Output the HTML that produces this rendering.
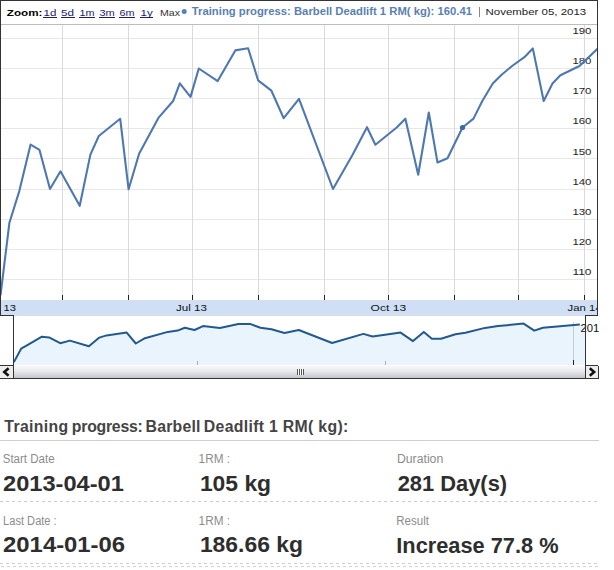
<!DOCTYPE html>
<html><head><meta charset="utf-8"><style>
html,body{margin:0;padding:0;background:#fff;width:614px;height:570px;overflow:hidden}
svg{display:block}
text{font-family:"Liberation Sans",sans-serif}
</style></head><body>
<svg width="614" height="570" viewBox="0 0 614 570">
<defs>
<linearGradient id="sb" x1="0" y1="0" x2="0" y2="1">
<stop offset="0" stop-color="#f8f8fa"/><stop offset="0.4" stop-color="#ebebef"/><stop offset="1" stop-color="#c4c4cf"/>
</linearGradient>
<clipPath id="plot"><rect x="1" y="25" width="596" height="275"/></clipPath>
<clipPath id="c600"><rect x="0" y="0" width="599" height="570"/></clipPath>
<clipPath id="band"><rect x="1" y="300" width="596" height="15"/></clipPath>
</defs>
<rect width="614" height="570" fill="#fff"/>
<!-- gridlines -->
<g stroke="#e8e8e8" stroke-width="1" shape-rendering="crispEdges">
<line x1="1" x2="597" y1="38.5" y2="38.5"/><line x1="1" x2="597" y1="68.5" y2="68.5"/><line x1="1" x2="597" y1="98.5" y2="98.5"/>
<line x1="1" x2="597" y1="128.5" y2="128.5"/><line x1="1" x2="597" y1="158.5" y2="158.5"/><line x1="1" x2="597" y1="189.5" y2="189.5"/>
<line x1="1" x2="597" y1="219.5" y2="219.5"/><line x1="1" x2="597" y1="249.5" y2="249.5"/><line x1="1" x2="597" y1="279.5" y2="279.5"/>
</g>
<g stroke="#dadada" stroke-width="1" shape-rendering="crispEdges">
<line y1="25" y2="300" x1="62.5" x2="62.5"/><line y1="25" y2="300" x1="128.5" x2="128.5"/><line y1="25" y2="300" x1="192.5" x2="192.5"/>
<line y1="25" y2="300" x1="258.5" x2="258.5"/><line y1="25" y2="300" x1="324.5" x2="324.5"/><line y1="25" y2="300" x1="388.5" x2="388.5"/>
<line y1="25" y2="300" x1="454.5" x2="454.5"/><line y1="25" y2="300" x1="518.5" x2="518.5"/><line y1="25" y2="300" x1="584.5" x2="584.5"/>
</g>
<g stroke="#222" stroke-width="1" shape-rendering="crispEdges">
<line y1="295" y2="300" x1="62.5" x2="62.5"/><line y1="295" y2="300" x1="128.5" x2="128.5"/><line y1="295" y2="300" x1="192.5" x2="192.5"/>
<line y1="295" y2="300" x1="258.5" x2="258.5"/><line y1="295" y2="300" x1="324.5" x2="324.5"/><line y1="295" y2="300" x1="388.5" x2="388.5"/>
<line y1="295" y2="300" x1="454.5" x2="454.5"/><line y1="295" y2="300" x1="518.5" x2="518.5"/><line y1="295" y2="300" x1="584.5" x2="584.5"/>
</g>
<!-- y labels -->
<g font-size="9.6" fill="#1e1e1e">
<text x="572.4" y="34.3" textLength="19" lengthAdjust="spacingAndGlyphs">190</text><text x="572.4" y="64.3" textLength="19" lengthAdjust="spacingAndGlyphs">180</text><text x="572.4" y="94.3" textLength="19" lengthAdjust="spacingAndGlyphs">170</text><text x="572.4" y="124.3" textLength="19" lengthAdjust="spacingAndGlyphs">160</text><text x="572.4" y="154.5" textLength="19" lengthAdjust="spacingAndGlyphs">150</text><text x="572.4" y="185" textLength="19" lengthAdjust="spacingAndGlyphs">140</text><text x="572.4" y="215" textLength="19" lengthAdjust="spacingAndGlyphs">130</text><text x="572.4" y="245" textLength="19" lengthAdjust="spacingAndGlyphs">120</text><text x="572.4" y="275" textLength="19" lengthAdjust="spacingAndGlyphs">110</text>
</g>
<!-- main line -->
<g clip-path="url(#plot)">
<polyline points="0.6,294.5 9.4,222.8 19.3,191.1 30.6,144.6 39.5,149.9 50.0,189.0 60.5,171.3 79.7,205.8 90.4,154.6 98.8,136.0 120.2,118.8 128.6,189.3 139.1,153.7 158.4,117.9 173.3,100.7 179.8,83.3 190.5,96.9 198.8,68.5 217.7,81.1 235.3,50.4 248.1,48.3 258.1,80.3 271.4,90.7 283.7,118.2 299.0,98.9 333.0,189.0 352.6,154.7 367.0,127.2 375.4,144.7 396.7,127.5 405.4,118.7 418.2,174.8 428.8,112.5 437.5,162.5 447.5,158.2 462.5,127.5 473.5,118.6 482.3,101.0 492.8,83.5 501.6,74.7 512.1,66.0 524.4,57.2 532.8,48.4 543.7,101.0 552.5,83.5 560.4,75.3 579.5,66.0 600.0,46.3" fill="none" stroke="#4e78b0" stroke-width="2.1" stroke-linejoin="round" stroke-linecap="round"/>
</g>
<circle cx="462.5" cy="127.5" r="2.6" fill="#3b68ad"/>
<!-- header -->
<line x1="1" x2="597" y1="24.5" y2="24.5" stroke="#bdbdbd" shape-rendering="crispEdges"/>
<text x="6.8" y="16" font-size="9.4" font-weight="bold" fill="#000" textLength="35.6" lengthAdjust="spacingAndGlyphs">Zoom:</text>
<g font-size="9.6" fill="#20206e">
<text x="43.5" y="16" textLength="12.8" lengthAdjust="spacingAndGlyphs">1d</text>
<text x="61" y="16" textLength="13" lengthAdjust="spacingAndGlyphs">5d</text>
<text x="79.5" y="16" textLength="15" lengthAdjust="spacingAndGlyphs">1m</text>
<text x="99.5" y="16" textLength="15.3" lengthAdjust="spacingAndGlyphs">3m</text>
<text x="119.5" y="16" textLength="15" lengthAdjust="spacingAndGlyphs">6m</text>
<text x="140.5" y="16" textLength="12.2" lengthAdjust="spacingAndGlyphs">1y</text>
</g>
<g stroke="#20206e" stroke-width="1" shape-rendering="crispEdges">
<line x1="43" x2="56.5" y1="17.5" y2="17.5"/><line x1="60.5" x2="74.5" y1="17.5" y2="17.5"/><line x1="79" x2="95" y1="17.5" y2="17.5"/>
<line x1="99" x2="115" y1="17.5" y2="17.5"/><line x1="119" x2="135" y1="17.5" y2="17.5"/><line x1="140" x2="153" y1="17.5" y2="17.5"/>
</g>
<text x="160" y="16" font-size="9.6" fill="#333" textLength="20" lengthAdjust="spacingAndGlyphs">Max</text>
<circle cx="184.2" cy="11.6" r="2.5" fill="#5580b8"/>
<text x="191.8" y="15.3" font-size="10" font-weight="bold" fill="#5a7fb3" textLength="280.2" lengthAdjust="spacingAndGlyphs">Training progress: Barbell Deadlift 1 RM( kg): 160.41</text>
<line x1="479.5" x2="479.5" y1="7" y2="17" stroke="#888" shape-rendering="crispEdges"/>
<text x="485.6" y="14.8" font-size="9.2" fill="#222" textLength="100.6" lengthAdjust="spacingAndGlyphs">November 05, 2013</text>
<!-- band -->
<rect x="1" y="300" width="596" height="16" fill="#cfe0f6"/>
<rect x="1" y="300" width="596" height="1" fill="#d3dfec"/>
<rect x="1" y="315" width="596" height="1" fill="#d6dbe6"/>
<g clip-path="url(#band)" font-size="9.6" fill="#111">
<text x="-17" y="311" textLength="33" lengthAdjust="spacingAndGlyphs">Apr 13</text><text x="176" y="311" textLength="31" lengthAdjust="spacingAndGlyphs">Jul 13</text><text x="370.6" y="311" textLength="35.5" lengthAdjust="spacingAndGlyphs">Oct 13</text><text x="567.5" y="311" textLength="34" lengthAdjust="spacingAndGlyphs">Jan 14</text>
</g>
<!-- borders -->
<g stroke="#333" stroke-width="1" shape-rendering="crispEdges" fill="none">
<line x1="0" x2="598" y1="0.5" y2="0.5"/>
<line x1="0.5" x2="0.5" y1="0" y2="316"/>
<line x1="597.5" x2="597.5" y1="0" y2="316"/>
<line x1="0" x2="14" y1="315.5" y2="315.5"/>
<line x1="585" x2="598" y1="315.5" y2="315.5"/>
</g>
<!-- mini chart -->
<rect x="14" y="316" width="571" height="49" fill="#fff"/>
<polygon points="13.9,362.1 21.1,348.7 25.6,346.2 41.9,336.7 49.1,337.4 60.2,343.2 69.9,340.6 88.9,346.3 99.3,337.6 106.5,335.4 126.7,332.6 135.8,343.5 144.9,338.2 167.8,331.9 177.6,330.6 184.8,327.8 194.5,330.0 203.0,326.1 219.9,328.0 238.3,323.9 250.0,323.9 260.4,327.8 271.5,329.3 284.5,333.0 298.8,330.0 332.1,343.0 363.4,333.9 372.5,336.5 385.0,334.8 400.6,332.6 413.0,341.1 423.8,331.9 431.9,338.7 441.0,338.7 455.4,334.3 465.4,332.8 485.0,327.9 498.0,326.1 511.0,324.8 523.6,323.6 534.3,330.6 542.9,327.7 557.2,326.4 579.8,324.4 585.0,324.4 585.0,365.0 13.9,365.0" fill="#eaf4fd"/>
<line x1="573.5" x2="573.5" y1="322" y2="365" stroke="#c3ccd6" shape-rendering="crispEdges"/>
<line x1="573.5" x2="573.5" y1="360" y2="365" stroke="#222" shape-rendering="crispEdges"/>
<line x1="197.5" x2="197.5" y1="361" y2="365" stroke="#a8b0b8" shape-rendering="crispEdges"/>
<line x1="385.5" x2="385.5" y1="361" y2="365" stroke="#a8b0b8" shape-rendering="crispEdges"/>
<polyline points="13.9,362.1 21.1,348.7 25.6,346.2 41.9,336.7 49.1,337.4 60.2,343.2 69.9,340.6 88.9,346.3 99.3,337.6 106.5,335.4 126.7,332.6 135.8,343.5 144.9,338.2 167.8,331.9 177.6,330.6 184.8,327.8 194.5,330.0 203.0,326.1 219.9,328.0 238.3,323.9 250.0,323.9 260.4,327.8 271.5,329.3 284.5,333.0 298.8,330.0 332.1,343.0 363.4,333.9 372.5,336.5 385.0,334.8 400.6,332.6 413.0,341.1 423.8,331.9 431.9,338.7 441.0,338.7 455.4,334.3 465.4,332.8 485.0,327.9 498.0,326.1 511.0,324.8 523.6,323.6 534.3,330.6 542.9,327.7 557.2,326.4 579.8,324.4" fill="none" stroke="#22598f" stroke-width="2" stroke-linejoin="round"/>
<g clip-path="url(#c600)"><text x="580.6" y="332.2" font-size="10" fill="#111" textLength="25" lengthAdjust="spacingAndGlyphs">2014</text></g>
<!-- scrollbar -->
<rect x="14" y="366" width="571" height="12" fill="url(#sb)"/>
<rect x="0" y="366" width="13" height="12" fill="#ededed"/>
<rect x="586" y="366" width="12" height="12" fill="#ededed"/>
<g stroke="#333" stroke-width="1" shape-rendering="crispEdges" fill="none">
<line x1="13.5" x2="13.5" y1="315" y2="379"/>
<line x1="585.5" x2="585.5" y1="315" y2="379"/>
<line x1="0" x2="14" y1="365.5" y2="365.5"/>
<line x1="585" x2="598" y1="365.5" y2="365.5"/>
<line x1="598.5" x2="598.5" y1="366" y2="379"/>
<line x1="0" x2="599" y1="378.5" y2="378.5"/>
</g>
<polyline points="8.6,368.3 4.3,372 8.6,375.7" fill="none" stroke="#111" stroke-width="2.6"/>
<polyline points="589.8,368.3 594.1,372 589.8,375.7" fill="none" stroke="#111" stroke-width="2.6"/>
<g stroke="#555" stroke-width="1" shape-rendering="crispEdges">
<line x1="297.5" x2="297.5" y1="369" y2="374.5"/><line x1="299.5" x2="299.5" y1="369" y2="374.5"/><line x1="301.5" x2="301.5" y1="369" y2="374.5"/><line x1="303.5" x2="303.5" y1="369" y2="374.5"/>
</g>
<g stroke="#fff" stroke-width="1" shape-rendering="crispEdges">
<line x1="298.5" x2="298.5" y1="369" y2="374.5"/><line x1="300.5" x2="300.5" y1="369" y2="374.5"/><line x1="302.5" x2="302.5" y1="369" y2="374.5"/>
</g>
<!-- stats -->
<g font-size="15.8" font-weight="bold" fill="#444">
<text x="4.3" y="432.4" textLength="63.8" lengthAdjust="spacing">Training</text>
<text x="71.8" y="432.4" textLength="71" lengthAdjust="spacing">progress:</text>
<text x="145.6" y="432.4" textLength="54.8" lengthAdjust="spacing">Barbell</text>
<text x="203.8" y="432.4" textLength="144.5" lengthAdjust="spacing">Deadlift 1 RM( kg):</text>
</g>
<line x1="0" x2="599" y1="440.5" y2="440.5" stroke="#d0d0d0" shape-rendering="crispEdges"/>
<g font-size="12.5" fill="#8c8c8c">
<text x="2.7" y="463" textLength="51.9" lengthAdjust="spacingAndGlyphs">Start Date</text>
<text x="198.6" y="463" textLength="31.4" lengthAdjust="spacingAndGlyphs">1RM :</text>
<text x="397.0" y="463" textLength="46.2" lengthAdjust="spacingAndGlyphs">Duration</text>
<text x="3.1" y="525" textLength="53.6" lengthAdjust="spacingAndGlyphs">Last Date :</text>
<text x="198.6" y="525" textLength="31.4" lengthAdjust="spacingAndGlyphs">1RM :</text>
<text x="396.3" y="525" textLength="32.6" lengthAdjust="spacingAndGlyphs">Result</text>
</g>
<g font-size="22" font-weight="bold" fill="#2e2e2e">
<text x="3.1" y="490.6" textLength="120.8" lengthAdjust="spacingAndGlyphs">2013-04-01</text>
<text x="199.9" y="490.6" textLength="71.2" lengthAdjust="spacingAndGlyphs">105 kg</text>
<text x="397.7" y="490.6" textLength="109.4" lengthAdjust="spacingAndGlyphs">281 Day(s)</text>
<text x="3.1" y="552.4" textLength="122.0" lengthAdjust="spacingAndGlyphs">2014-01-06</text>
<text x="199.9" y="552.4" textLength="103.1" lengthAdjust="spacingAndGlyphs">186.66 kg</text>
<text x="396.3" y="552.6" textLength="162.2" lengthAdjust="spacingAndGlyphs">Increase 77.8 %</text>
</g>
<g stroke="#cdcdcd" stroke-width="1" stroke-dasharray="3,3" stroke-dashoffset="0.5" shape-rendering="crispEdges">
<line x1="0" x2="598" y1="501.5" y2="501.5"/>
<line x1="0" x2="598" y1="563.5" y2="563.5"/>
</g>
<line x1="0" x2="598" y1="566.5" y2="566.5" stroke="#d2d2d2" stroke-width="1" stroke-dasharray="3,3" stroke-dashoffset="-0.5" shape-rendering="crispEdges"/>
</svg>
</body></html>
